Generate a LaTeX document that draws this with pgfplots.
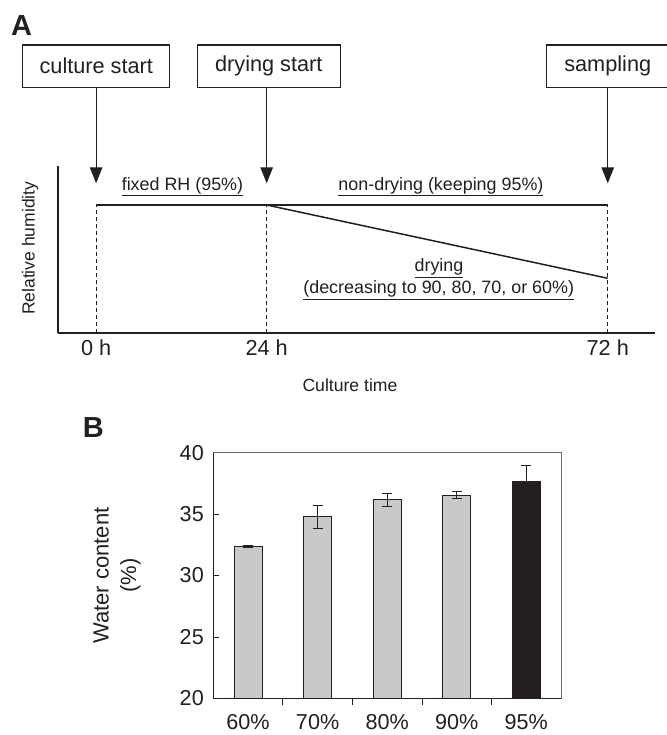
\documentclass[border=0pt]{standalone}
\usepackage{pgfplots}
\pgfplotsset{compat=1.18}
\usepackage{fontspec}
\setmainfont{Liberation Sans}
\usetikzlibrary{arrows.meta}
\definecolor{ink}{HTML}{231F20}
\definecolor{barg}{HTML}{C8C9CA}
\definecolor{frameg}{HTML}{6D6E70}
\begin{document}
\begin{tikzpicture}
\useasboundingbox (0pt,0pt) rectangle (666pt,-735pt);
% ---------------- Panel A ----------------
\node[anchor=base west, font=\fontsize{29}{34}\selectfont\bfseries, text=ink, inner sep=0] at (10.8pt,-36pt) {A};
\begin{axis}[
  at={(58.3pt,-333.3pt)}, anchor=south west,
  scale only axis, width=596.7pt, height=167.3pt,
  xmin=-5.324, xmax=78.65, ymin=33.73, ymax=113.62,
  axis x line=bottom, axis y line=left,
  axis line style={-, ink, line width=1.8pt},
  xtick={0,24,72}, xticklabels={0 h,24 h,72 h}, ytick=\empty,
  major tick length=0pt,
  /pgf/number format/assume math mode=true,
  ticklabel style={font=\fontsize{21.7}{26}\selectfont, text=ink},
  xticklabel style={yshift=-3pt},
  xlabel={Culture time},
  xlabel style={font=\fontsize{17.6}{21}\selectfont, text=ink, at={(axis description cs:0.4888,-0.309)}, anchor=center},
  ylabel={Relative humidity},
  ylabel style={font=\fontsize{17.5}{21}\selectfont, text=ink, at={(axis description cs:-0.0474,0.508)}, anchor=center},
  clip=false,
]
\addplot[ink, line width=1.7pt] coordinates {(0,95) (72,95)};
\addplot[ink, line width=1.5pt] coordinates {(24,95) (72,60)};
\addplot[ink, line width=0.9pt, dash pattern=on 4pt off 3pt] coordinates {(0,33.73) (0,95)};
\addplot[ink, line width=0.9pt, dash pattern=on 4pt off 3pt] coordinates {(24,33.73) (24,95)};
\addplot[ink, line width=0.9pt, dash pattern=on 4pt off 3pt] coordinates {(72,33.73) (72,95)};
% boxes and arrows
\node[draw=ink, line width=1.1pt, minimum height=42.3pt, inner xsep=0pt, text=ink, font=\fontsize{21.7}{26}\selectfont, minimum width=147.3pt] at (axis cs:0.02,161.28) {culture start};
\node[draw=ink, line width=1.1pt, minimum height=42.3pt, inner xsep=0pt, text=ink, font=\fontsize{21.7}{26}\selectfont, minimum width=142.7pt] at (axis cs:24.3,161.28) {drying start};
\node[draw=ink, line width=1.1pt, minimum height=42.3pt, inner xsep=0pt, text=ink, font=\fontsize{21.7}{26}\selectfont, minimum width=122.6pt] at (axis cs:72,161.28) {sampling};
\draw[ink, line width=1.1pt, -{Triangle[length=16pt,width=12.5pt]}] (axis cs:0,151.21) -- (axis cs:0,105.36);
\draw[ink, line width=1.1pt, -{Triangle[length=16pt,width=12.5pt]}] (axis cs:24,151.21) -- (axis cs:24,105.36);
\draw[ink, line width=1.1pt, -{Triangle[length=16pt,width=12.5pt]}] (axis cs:72,151.21) -- (axis cs:72,105.36);
% annotations
\node[text=ink, font=\fontsize{17.9}{21}\selectfont] at (axis cs:12.15,103.7) {\underline{fixed RH (95\%)}};
\node[text=ink, font=\fontsize{17.9}{21}\selectfont] at (axis cs:48.53,103.7) {\underline{non-drying (keeping 95\%)}};
\node[text=ink, font=\fontsize{17.9}{21}\selectfont] at (axis cs:48.25,64.77) {\underline{drying}};
\node[text=ink, font=\fontsize{17.9}{21}\selectfont] at (axis cs:48.21,54.4) {\underline{(decreasing to 90, 80, 70, or 60\%)}};
\end{axis}
% ---------------- Panel B ----------------
\node[anchor=base west, font=\fontsize{29}{34}\selectfont\bfseries, text=ink, inner sep=0] at (82.6pt,-437.3pt) {B};
\begin{axis}[
  at={(213.3pt,-698.3pt)}, anchor=south west,
  scale only axis, width=347.7pt, height=245.6pt,
  xmin=-0.5, xmax=4.5, ymin=20, ymax=40,
  axis line style={frameg, line width=0.8pt},
  ytick={20,25,30,35,40},
  xtick={0,1,2,3,4}, xticklabels={60\%,70\%,80\%,90\%,95\%},
  minor xtick={0.5,1.5,2.5,3.5},
  tick pos=left, tick align=inside,
  major tick length=6pt, minor tick length=6.5pt,
  major x tick style={draw=none},
  tick style={ink, line width=0.8pt},
  /pgf/number format/assume math mode=true,
  ticklabel style={font=\fontsize{21.6}{26}\selectfont, text=ink},
  xticklabel style={yshift=-7pt},
  yticklabel style={xshift=-6pt},
  ylabel={Water content\\(\%)},
  ylabel style={font=\fontsize{22}{27.5}\selectfont, text=ink, align=center, at={(axis description cs:-0.277,0.5)}, anchor=center},
  ybar, bar width=28pt,
  clip=false,
]
\addplot[ybar, bar shift=0pt, fill=barg, draw=ink, line width=0.9pt,
  error bars/.cd, y dir=both, y explicit,
  error bar style={ink, line width=0.9pt},
  error mark options={rotate=90, mark size=5pt, ink, line width=0.9pt}]
  coordinates {(0,32.35) +- (0,0.10) (1,34.78) +- (0,0.91) (2,36.17) +- (0,0.51) (3,36.54) +- (0,0.29)};
\addplot[ybar, bar shift=0pt, fill=ink, draw=ink, line width=0.9pt,
  error bars/.cd, y dir=both, y explicit,
  error bar style={ink, line width=0.9pt},
  error mark options={rotate=90, mark size=5pt, ink, line width=0.9pt}]
  coordinates {(4,37.64) +- (0,1.36)};
\draw[ink, line width=1.2pt] (rel axis cs:0,1) -- (rel axis cs:0,0) -- (rel axis cs:1,0);
\end{axis}
\end{tikzpicture}
\end{document}
